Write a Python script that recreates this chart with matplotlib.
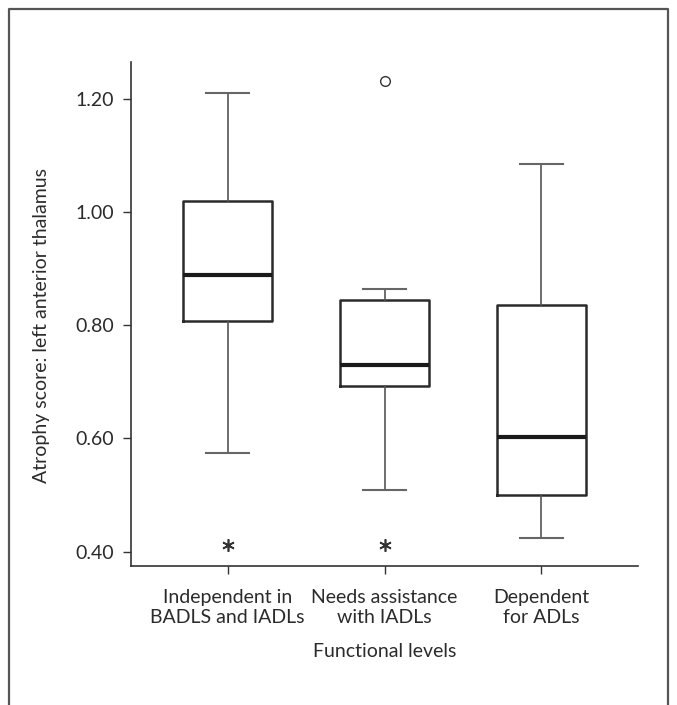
import matplotlib
matplotlib.use("Agg")
import matplotlib.pyplot as plt

plt.rcParams['font.family'] = ['Lato', 'DejaVu Sans']

categories = ["Independent in\nBADLS and IADLs", "Needs assistance\nwith IADLs", "Dependent\nfor ADLs"]
whisker_low = [0.575, 0.509, 0.424]
q1 = [0.808, 0.692, 0.500]
median = [0.888, 0.729, 0.602]
q3 = [1.019, 0.844, 0.836]
whisker_high = [1.210, 0.864, 1.084]
outlier_circle_x = [2]
outlier_circle_y = [1.232]
extreme_x = [1, 2]
extreme_y = [0.412, 0.412]
yticks = [0.40, 0.60, 0.80, 1.00, 1.20]
ytick_labels = ["0.40", "0.60", "0.80", "1.00", "1.20"]

TXT = '#2b2b2b'
DPI = 100
fig = plt.figure(figsize=(6.77, 7.05), dpi=DPI)
ax = fig.add_axes([131/677, 1-566.3/705, (638-131)/677, (566.3-62)/705])

stats = []
for i in range(len(categories)):
    stats.append(dict(whislo=whisker_low[i], q1=q1[i], med=median[i],
                      q3=q3[i], whishi=whisker_high[i], fliers=[]))

ax.bxp(stats, positions=[1, 2, 3], widths=0.568, capwidths=0.276,
       showfliers=False,
       boxprops=dict(color='#2a2a2a', linewidth=1.8),
       whiskerprops=dict(color='#555555', linewidth=1.2),
       capprops=dict(color='#666666', linewidth=1.5),
       medianprops=dict(color='#1a1a1a', linewidth=3.0, solid_capstyle='butt'))

ax.plot(outlier_circle_x, outlier_circle_y, linestyle='none', marker='o',
        markersize=7, markerfacecolor='none', markeredgecolor='#333333', markeredgewidth=1.0)
ax.plot(extreme_x, extreme_y, linestyle='none', marker=(6, 2, 0),
        markersize=9, markeredgecolor='#333333', markeredgewidth=1.2)

ax.set_xlim(0.383, 3.617)
ax.set_ylim(0.374, 1.265)
ax.set_yticks(yticks)
ax.set_yticklabels(ytick_labels)
ax.set_xticks([1, 2, 3])
ax.set_xticklabels(categories, linespacing=1.25)

for s in ['top', 'right']:
    ax.spines[s].set_visible(False)
for s in ['left', 'bottom']:
    ax.spines[s].set_color('#333333')
    ax.spines[s].set_linewidth(1.2)

ax.tick_params(axis='both', direction='out', length=6, width=1.0, color='#333333',
               labelsize=14, labelcolor=TXT)
ax.tick_params(axis='x', pad=10)
ax.tick_params(axis='y', pad=6)

ax.set_ylabel("Atrophy score: left anterior thalamus", fontsize=14, color=TXT)
ax.yaxis.set_label_coords(-0.16, 0.4775)
ax.set_xlabel("Functional levels", fontsize=14, color=TXT, labelpad=12)

# outer frame (open at the bottom)
frame = plt.Line2D([9/677, 9/677, 668/677, 668/677], [0, 1-9/705, 1-9/705, 0],
                   transform=fig.transFigure, color='#555555', linewidth=1.6)
fig.add_artist(frame)

fig.savefig("out.png", dpi=DPI, facecolor='white')
